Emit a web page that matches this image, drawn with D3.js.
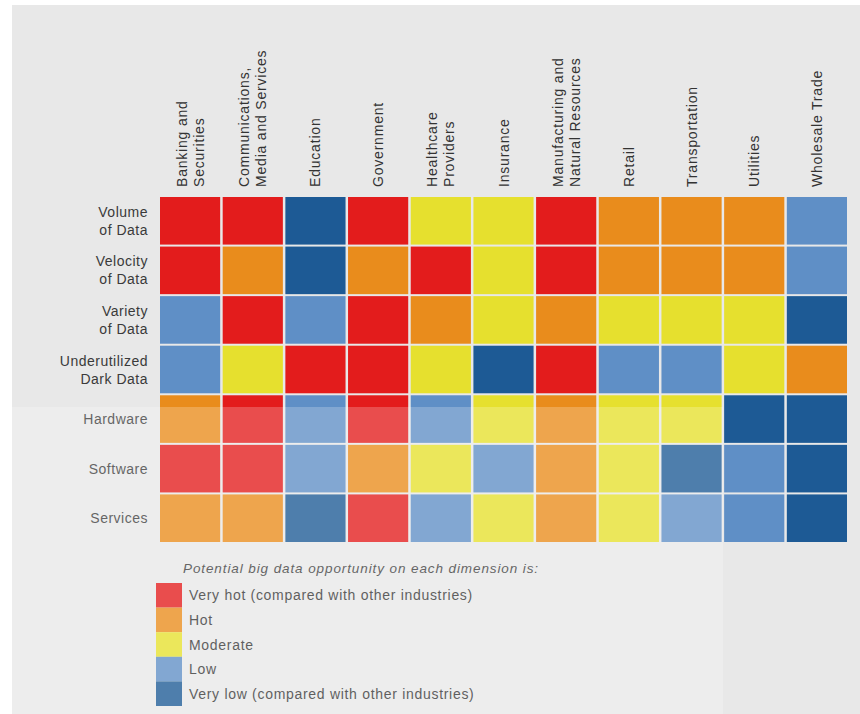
<!DOCTYPE html>
<html>
<head>
<meta charset="utf-8">
<title>Big data opportunity heat map</title>
<script src="https://cdn.jsdelivr.net/npm/d3@7"></script>
<style>
  html, body { margin: 0; padding: 0; background: #ffffff; }
  svg { display: block; }
</style>
</head>
<body>
<div id="chart"></div>
<script>
'use strict';

// ── Data ───────────────────────────────────────────────────────────────────
const industries = [
  'Banking and Securities',
  'Communications, Media and Services',
  'Education',
  'Government',
  'Healthcare Providers',
  'Insurance',
  'Manufacturing and Natural Resources',
  'Retail',
  'Transportation',
  'Utilities',
  'Wholesale Trade'
];

// header lines as printed
const industryLines = [
  ['Banking and', 'Securities'],
  ['Communications,', 'Media and Services'],
  ['Education'],
  ['Government'],
  ['Healthcare', 'Providers'],
  ['Insurance'],
  ['Manufacturing and', 'Natural Resources'],
  ['Retail'],
  ['Transportation'],
  ['Utilities'],
  ['Wholesale Trade']
];

const dimensions = [
  'Volume of Data',
  'Velocity of Data',
  'Variety of Data',
  'Underutilized Dark Data',
  'Hardware',
  'Software',
  'Services'
];

const dimensionLines = [
  ['Volume', 'of Data'],
  ['Velocity', 'of Data'],
  ['Variety', 'of Data'],
  ['Underutilized', 'Dark Data'],
  ['Hardware'],
  ['Software'],
  ['Services']
];

// 4 = very hot, 3 = hot, 2 = moderate, 1 = low, 0 = very low
const volume   = [4, 4, 0, 4, 2, 2, 4, 3, 3, 3, 1];
const velocity = [4, 3, 0, 3, 4, 2, 4, 3, 3, 3, 1];
const variety  = [1, 4, 1, 4, 3, 2, 3, 2, 2, 2, 0];
const darkData = [1, 2, 4, 4, 2, 0, 4, 1, 1, 2, 3];
const hardware = [3, 4, 1, 4, 1, 2, 3, 2, 2, 0, 0];
const software = [4, 4, 1, 3, 2, 1, 3, 2, 0, 1, 0];
const services = [3, 3, 0, 4, 1, 2, 3, 2, 1, 1, 0];

const levels = [4, 3, 2, 1, 0];
const levelLabels = [
  'Very hot (compared with other industries)',
  'Hot',
  'Moderate',
  'Low',
  'Very low (compared with other industries)'
];

const legendTitle = 'Potential big data opportunity on each dimension is:';

// ── Colours ────────────────────────────────────────────────────────────────
const color = d3.scaleOrdinal()
  .domain([4, 3, 2, 1, 0])
  .range(['#e31c1c', '#e98c1c', '#e6e02e', '#5f8fc6', '#1d5a95']);

const FONT = '"Liberation Sans", Arial, sans-serif';

// ── Layout ─────────────────────────────────────────────────────────────────
const width = 860, height = 714;

const svg = d3.select('#chart')
  .append('svg')
  .attr('width', width)
  .attr('height', height)
  .attr('viewBox', `0 0 ${width} ${height}`);

// grey page behind the chart
svg.append('rect')
  .attr('x', 12).attr('y', 5)
  .attr('width', width - 12).attr('height', height - 5)
  .attr('fill', '#e8e8e8');

const x = d3.scaleBand()
  .domain(industries)
  .range([160, 847])
  .paddingInner(0.04);

const y = d3.scaleBand()
  .domain(dimensions)
  .range([197, 542])
  .paddingInner(0.04);

const rows = [volume, velocity, variety, darkData, hardware, software, services];
const cells = [];
rows.forEach((row, r) => {
  row.forEach((v, c) => {
    cells.push({ dim: dimensions[r], ind: industries[c], v });
  });
});

// Cells
svg.append('g')
  .selectAll('rect')
  .data(cells)
  .join('rect')
  .attr('x', d => x(d.ind))
  .attr('y', d => y(d.dim))
  .attr('width', x.bandwidth())
  .attr('height', y.bandwidth())
  .attr('fill', d => color(d.v));

// Column headers (rotated, reading upwards)
const colG = svg.append('g')
  .selectAll('g')
  .data(industries)
  .join('g')
  .attr('transform', d => `translate(${x(d) + x.bandwidth() / 2},187) rotate(-90)`);

colG.selectAll('text')
  .data((d, i) => industryLines[i].map((t, j, arr) => ({ t, off: (j - (arr.length - 1) / 2) * 17 })))
  .join('text')
  .attr('x', 0)
  .attr('y', d => d.off)
  .attr('dominant-baseline', 'central')
  .attr('text-anchor', 'start')
  .attr('font-family', FONT)
  .attr('font-size', '14px')
  .attr('letter-spacing', '0.8px')
  .attr('fill', '#333333')
  .text(d => d.t);

// Row headers
const rowG = svg.append('g')
  .selectAll('g')
  .data(dimensions)
  .join('g')
  .attr('transform', d => `translate(148,${y(d) + y.bandwidth() / 2})`);

rowG.selectAll('text')
  .data((d, i) => dimensionLines[i].map((t, j, arr) => ({ t, off: (j - (arr.length - 1) / 2) * 18 })))
  .join('text')
  .attr('x', 0)
  .attr('y', d => d.off)
  .attr('dominant-baseline', 'central')
  .attr('text-anchor', 'end')
  .attr('font-family', FONT)
  .attr('font-size', '14px')
  .attr('letter-spacing', '0.5px')
  .attr('fill', '#3a3a3a')
  .text(d => d.t);

// ── Legend ─────────────────────────────────────────────────────────────────
const legend = svg.append('g');

legend.append('text')
  .attr('x', 183)
  .attr('y', 568)
  .attr('dominant-baseline', 'central')
  .attr('font-family', FONT)
  .attr('font-size', '13.5px')
  .attr('font-style', 'italic')
  .attr('letter-spacing', '0.9px')
  .attr('fill', '#3a3a3a')
  .text(legendTitle);

const ly = d3.scaleBand()
  .domain(levels)
  .range([583, 706]);

legend.selectAll('rect')
  .data(levels)
  .join('rect')
  .attr('x', 156)
  .attr('y', d => ly(d))
  .attr('width', 26)
  .attr('height', ly.bandwidth())
  .attr('fill', d => color(d));

legend.selectAll('.lg-label')
  .data(levels)
  .join('text')
  .attr('class', 'lg-label')
  .attr('x', 189)
  .attr('y', d => ly(d) + ly.bandwidth() / 2)
  .attr('dominant-baseline', 'central')
  .attr('font-family', FONT)
  .attr('font-size', '14px')
  .attr('letter-spacing', '0.7px')
  .attr('fill', '#333333')
  .text((d, i) => levelLabels[i]);

// washed-out lower panel of the scanned page
svg.append('rect')
  .attr('x', 12)
  .attr('y', 407)
  .attr('width', 711)
  .attr('height', height - 407)
  .attr('fill', '#ffffff')
  .attr('fill-opacity', 0.22);
</script>
</body>
</html>
